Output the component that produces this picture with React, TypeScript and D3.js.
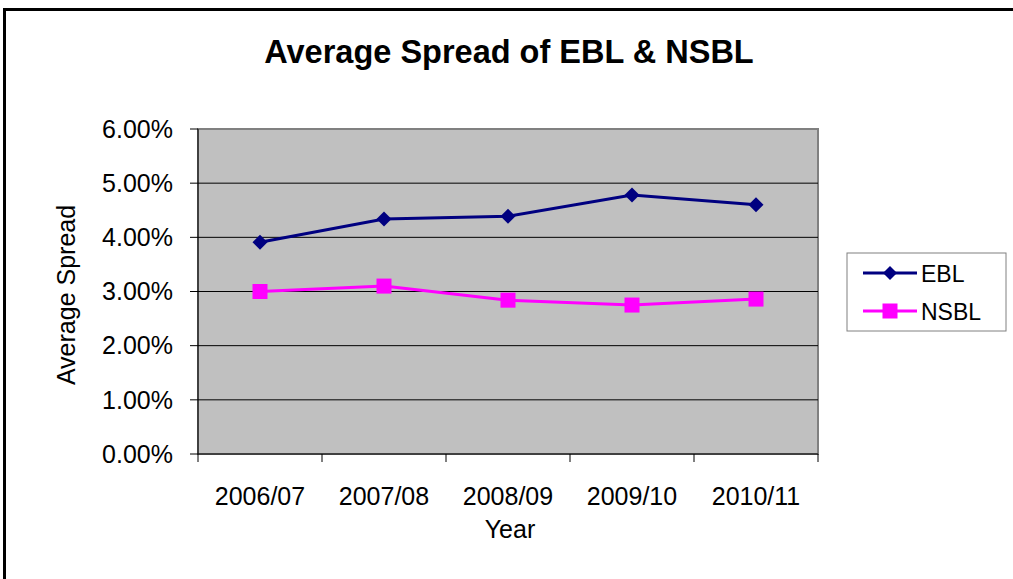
import React from "react";
import * as d3 from "d3";

const categories = ["2006/07", "2007/08", "2008/09", "2009/10", "2010/11"];
const eblValues = [3.91, 4.34, 4.39, 4.78, 4.6];
const nsblValues = [3.0, 3.1, 2.84, 2.75, 2.86];
const yTicks = [0, 1, 2, 3, 4, 5, 6];
const seriesNames = ["EBL", "NSBL"];

const W = 1013;
const H = 579;
const FONT = "'Liberation Sans', Arial, sans-serif";

export default function App() {
  const plot = { left: 198, right: 818, top: 129, bottom: 454 };
  const x = d3.scaleBand<string>().domain(categories).range([plot.left, plot.right]).padding(0);
  const y = d3.scaleLinear().domain([0, 6]).range([plot.bottom, plot.top]);
  const cx = (c: string) => (x(c) as number) + x.bandwidth() / 2;

  const line = d3
    .line<number>()
    .x((_, i) => cx(categories[i]))
    .y((v) => y(v));

  const diamond = (px: number, py: number, r: number) =>
    `M${px},${py - r}L${px + r},${py}L${px},${py + r}L${px - r},${py}Z`;

  const xBoundaries = [...categories.map((c) => x(c) as number), plot.right];

  const legend = { x: 847, y: 253, w: 159, h: 78 };
  const legendRows = [
    { name: seriesNames[0], color: "#000080", y: 273, marker: "diamond" },
    { name: seriesNames[1], color: "#FF00FF", y: 311, marker: "square" },
  ];

  return (
    <svg
      width={W}
      height={H}
      style={{ position: "absolute", left: 0, top: 0, background: "#fff" }}
      fontFamily={FONT}
    >
      <rect x={0} y={0} width={W} height={H} fill="#fff" />
      <rect x={4.5} y={9.5} width={W + 20} height={H + 20} fill="none" stroke="#000" strokeWidth={3} />

      <text x={509} y={63} textAnchor="middle" fontSize={32.5} fontWeight="bold" fill="#000">
        Average Spread of EBL &amp; NSBL
      </text>

      {/* plot area */}
      <rect
        x={plot.left}
        y={plot.top}
        width={plot.right - plot.left}
        height={plot.bottom - plot.top}
        fill="#C0C0C0"
        stroke="#808080"
        strokeWidth={2}
      />
      {yTicks.slice(1, -1).map((t) => (
        <line key={t} x1={plot.left} x2={plot.right} y1={y(t)} y2={y(t)} stroke="#000" strokeWidth={1} />
      ))}

      {/* axes */}
      <line x1={plot.left} x2={plot.left} y1={plot.top} y2={plot.bottom} stroke="#000" strokeWidth={1} />
      <line x1={plot.left} x2={plot.right} y1={plot.bottom} y2={plot.bottom} stroke="#000" strokeWidth={1} />
      {yTicks.map((t) => (
        <g key={t}>
          <line x1={plot.left - 8} x2={plot.left} y1={y(t)} y2={y(t)} stroke="#000" strokeWidth={1} />
          <text x={173} y={y(t)} dy="0.35em" textAnchor="end" fontSize={25} fill="#000">
            {t.toFixed(2)}%
          </text>
        </g>
      ))}
      {xBoundaries.map((bx, i) => (
        <line key={i} x1={bx} x2={bx} y1={plot.bottom} y2={plot.bottom + 8} stroke="#000" strokeWidth={1} />
      ))}
      {categories.map((c) => (
        <text key={c} x={cx(c)} y={505} textAnchor="middle" fontSize={25} fill="#000">
          {c}
        </text>
      ))}
      <text x={510} y={538} textAnchor="middle" fontSize={25} fill="#000">
        Year
      </text>
      <text transform="translate(75,295) rotate(-90)" textAnchor="middle" fontSize={25} fill="#000">
        Average Spread
      </text>

      {/* series */}
      <path d={line(eblValues) as string} fill="none" stroke="#000080" strokeWidth={3} />
      {eblValues.map((v, i) => (
        <path key={i} d={diamond(cx(categories[i]), y(v), 7.5)} fill="#000080" />
      ))}
      <path d={line(nsblValues) as string} fill="none" stroke="#FF00FF" strokeWidth={3} />
      {nsblValues.map((v, i) => (
        <rect key={i} x={cx(categories[i]) - 7.5} y={y(v) - 7.5} width={15} height={15} fill="#FF00FF" />
      ))}

      {/* legend */}
      <rect x={legend.x} y={legend.y} width={legend.w} height={legend.h} fill="#fff" stroke="#808080" strokeWidth={1} />
      {legendRows.map((r) => (
        <g key={r.name}>
          <line x1={863} x2={917} y1={r.y} y2={r.y} stroke={r.color} strokeWidth={3} />
          {r.marker === "diamond" ? (
            <path d={diamond(890, r.y, 7)} fill={r.color} />
          ) : (
            <rect x={890 - 7.5} y={r.y - 7.5} width={15} height={15} fill={r.color} />
          )}
          <text x={921} y={r.y + 8.5} fontSize={23} fill="#000">
            {r.name}
          </text>
        </g>
      ))}
    </svg>
  );
}
